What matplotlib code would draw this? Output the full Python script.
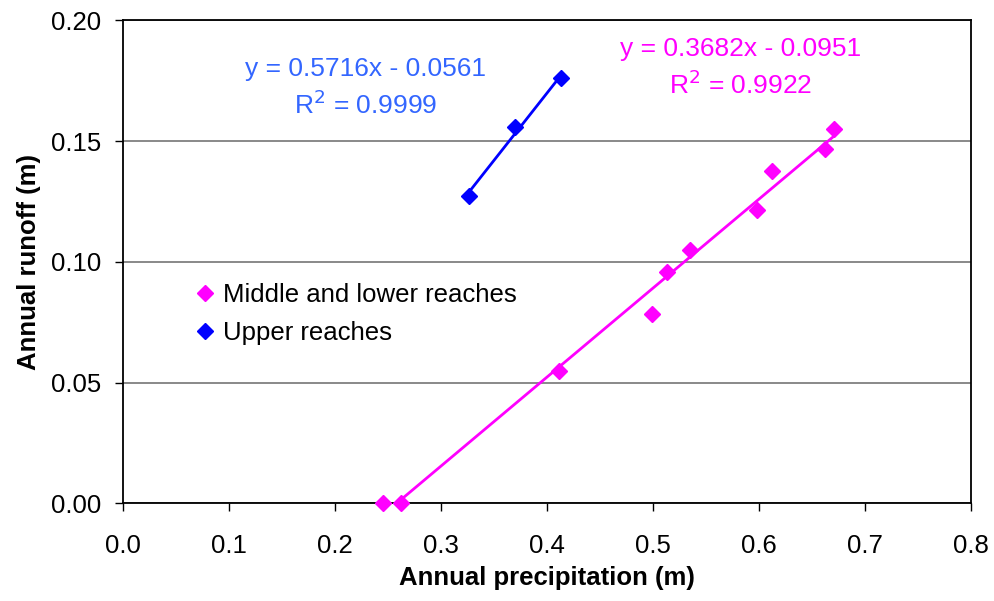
import numpy as np
import matplotlib
matplotlib.use("Agg")
import matplotlib.pyplot as plt

plt.rcParams['font.family'] = ['Liberation Sans', 'DejaVu Sans']

# middle and lower reaches
mid_x = [0.245, 0.2625, 0.411, 0.4986, 0.5134, 0.5348, 0.5977, 0.6119, 0.662, 0.6708]
mid_y = [0.0, 0.0, 0.0546, 0.0784, 0.0957, 0.1048, 0.1217, 0.1376, 0.1466, 0.1549]
mid_eq = 'y = 0.3682x - 0.0951\nR$^2$ = 0.9922'

# upper reaches
up_x = [0.3261, 0.3695, 0.4136]
up_y = [0.1272, 0.1560, 0.1760]
up_eq = 'y = 0.5716x - 0.0561\nR$^2$ = 0.9999'

magenta = '#FF00FF'
blue = '#0000FF'
eq_blue = '#3366FF'

fig = plt.figure(figsize=(9.95, 6.01), dpi=100)
ax = fig.add_axes([0.1236, 0.1626, 0.8523, 0.8033])

# linear trendlines over each series' x range
for x, y, c in [(mid_x, mid_y, magenta), (up_x, up_y, blue)]:
    p = np.polyfit(x, y, 1)
    xs = np.linspace(min(x), max(x), 50)
    ax.plot(xs, np.polyval(p, xs), color=c, lw=2, zorder=2)

ax.plot(mid_x, mid_y, 'D', color=magenta, ms=8.5, ls='none', label='Middle and lower reaches', zorder=3, clip_on=False)
ax.plot(up_x, up_y, 'D', color=blue, ms=8.5, ls='none', label='Upper reaches', zorder=3)

ax.set_xlim(0, 0.8)
ax.set_ylim(0, 0.20)
ax.set_xticks(np.arange(0, 0.81, 0.1))
ax.set_yticks(np.arange(0, 0.201, 0.05))
ax.xaxis.set_major_formatter(matplotlib.ticker.FormatStrFormatter('%.1f'))
ax.yaxis.set_major_formatter(matplotlib.ticker.FormatStrFormatter('%.2f'))
ax.tick_params(labelsize=18.5, direction='out', length=6, width=1)
ax.tick_params(axis='x', pad=16)
ax.tick_params(axis='y', pad=10)
ax.yaxis.grid(True, color='#808080', lw=1.3)
ax.set_axisbelow(True)
for s in ax.spines.values():
    s.set_linewidth(1.3)

ax.set_xlabel('Annual precipitation (m)', fontsize=18.5, fontweight='bold', labelpad=6)
ax.set_ylabel('Annual runoff (m)', fontsize=18.5, fontweight='bold', labelpad=7)

ax.text(0.2285, 0.1721, up_eq, color=eq_blue,
        fontsize=19, ha='center', va='center', linespacing=1.4)
ax.text(0.5826, 0.1802, mid_eq, color=magenta,
        fontsize=19, ha='center', va='center', linespacing=1.4)

ax.legend(loc='center left', bbox_to_anchor=(0.088, 0.392), frameon=False, fontsize=18.5,
          handlelength=0.6, handletextpad=0.4, labelspacing=0.55, borderpad=0, borderaxespad=0)

fig.savefig('out.png', dpi=100)
